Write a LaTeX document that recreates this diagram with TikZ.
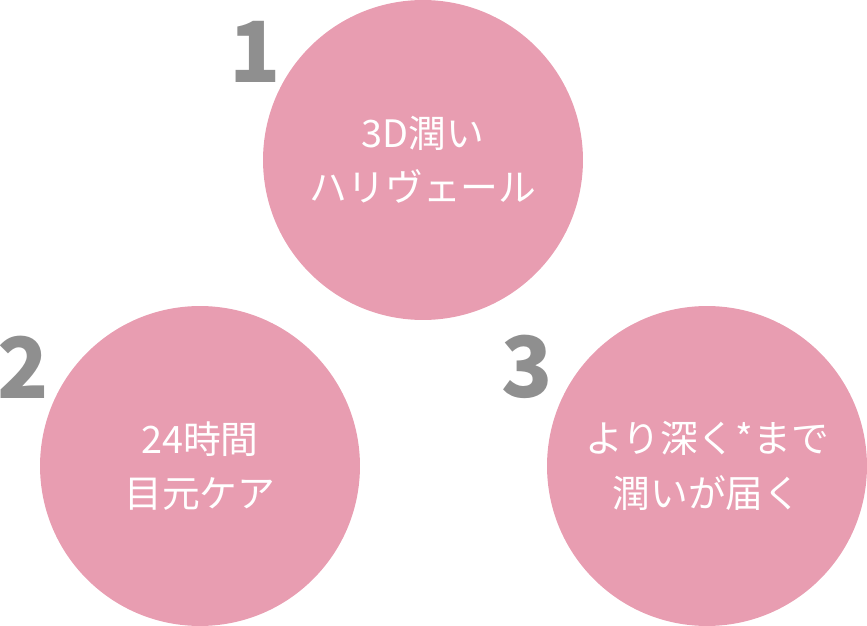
\documentclass[tikz,border=0pt]{standalone}
\usepackage{fontspec}
\setmainfont{Noto Sans CJK JP}
\definecolor{petal}{HTML}{E89DB1}
\definecolor{numgray}{HTML}{8F8F8F}
\tikzset{
  bubble/.style={shape=circle,fill=petal,minimum size=6.4cm,inner sep=0pt,
    text=white,align=center,font=\fontsize{21.5}{31}\selectfont},
  num/.style={text=numgray,font=\fontsize{48}{48}\selectfont\bfseries}
}
\begin{document}
\begin{tikzpicture}[x=0.02cm,y=-0.02cm]
	\useasboundingbox (0,0) rectangle (867,626);

	\node[bubble] (a) at (423, 160)   {3D潤い\\ハリヴェール};
	\node[bubble] (b) at (200, 466)   {24時間\\目元ケア};
	\node[bubble] (c) at (707, 466)   {より深く*まで\\潤いが届く};

	\node[num] (na) at (255, 52)      {1};
	\node[num] (nb) at (23, 367)      {2};
	\node[num] (nc) at (527, 367)     {3};
\end{tikzpicture}
\end{document}
